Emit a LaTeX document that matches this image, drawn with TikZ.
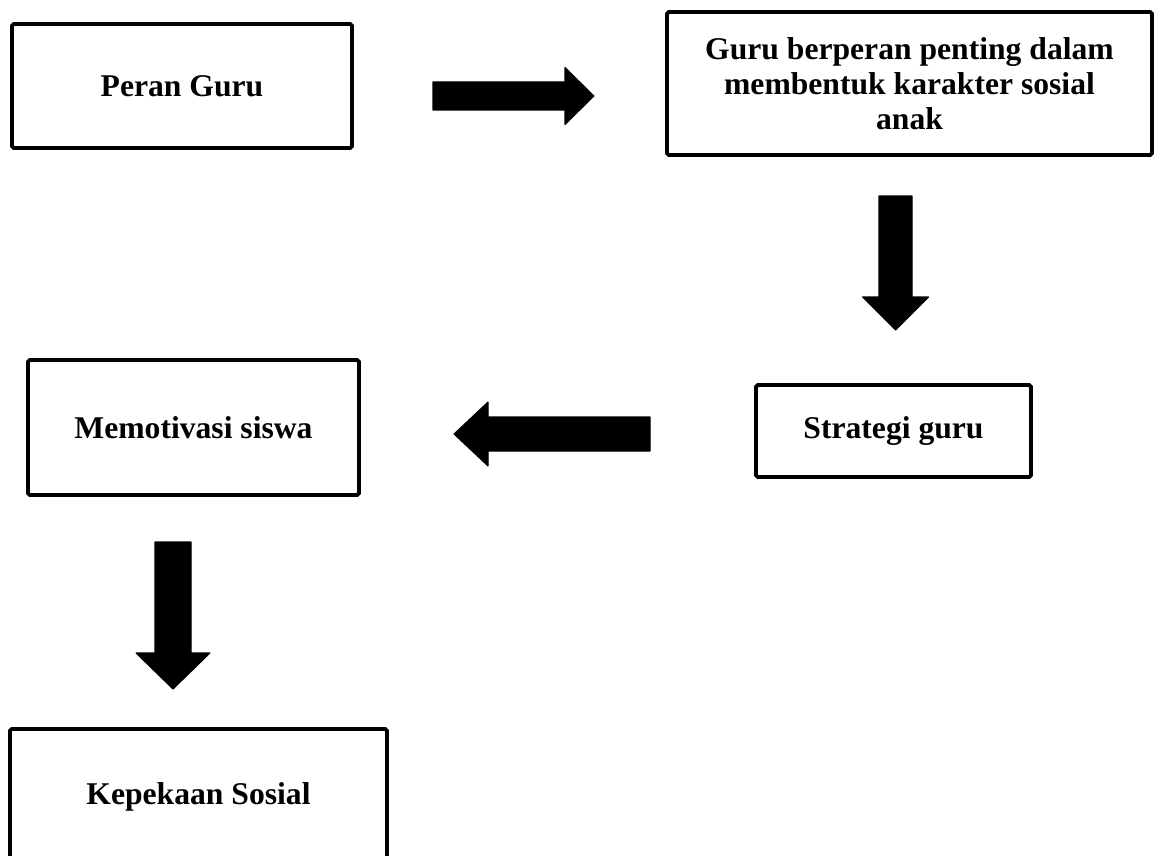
\documentclass[tikz,border=0pt]{standalone}
\usepackage{fontspec}
\setmainfont{Liberation Serif}
\usetikzlibrary{calc, positioning}

% block arrow: tail, tip, shaft half width, head half width, head length
\newcommand{\blockarrow}[5]{
  \coordinate (hb) at ($(#2)!#5!(#1)$);
  \fill[blockarrow]
  ($(#1)!#3!90:(#2)$) -- ($(hb)!#3!90:(#2)$) -- ($(hb)!#4!90:(#2)$)
  -- (#2)
  -- ($(hb)!#4!-90:(#2)$) -- ($(hb)!#3!-90:(#2)$) -- ($(#1)!#3!-90:(#2)$) -- cycle;
}

\begin{document}
\begin{tikzpicture}[
    % Styles
    box/.style={draw=black, line width=2.2pt, rounded corners=1pt, fill=white,
      inner sep=0pt, align=center, font=\fontsize{18}{20}\selectfont\bfseries,
      minimum width=#1},
    blockarrow/.style={fill=black, draw=black, line width=0.6pt, line join=round},
  ]

  % 0) Frame
  \useasboundingbox (0,0) rectangle (23.12,-17.12);
  \clip (0,0) rectangle (23.12,-17.12);

  % 1) Boxes
  \node[box=6.80cm, minimum height=2.48cm] (peran) at (3.64,-1.72) {Peran Guru};
  \node[box=9.70cm, minimum height=2.86cm] (penting) at (18.19,-1.67)
  {Guru berperan penting dalam\\ membentuk karakter sosial\\ anak};
  \node[box=5.50cm, minimum height=1.84cm] (strategi) at (17.87,-8.62) {Strategi guru};
  \node[box=6.62cm, minimum height=2.70cm] (motivasi) at (3.87,-8.55) {Memotivasi siswa};
  \node[box=7.54cm, minimum height=2.70cm] (peka) at (3.97,-15.93) {Kepekaan Sosial};

  % 2) Arrow ends
  \coordinate (a1s) at (8.66,-1.92);   \coordinate (a1e) at (11.88,-1.92);
  \coordinate (a2s) at (17.91,-3.92);  \coordinate (a2e) at (17.91,-6.60);
  \coordinate (a3s) at (13.00,-8.68);  \coordinate (a3e) at (9.08,-8.68);
  \coordinate (a4s) at (3.46,-10.84);  \coordinate (a4e) at (3.46,-13.78);

  % 3) Block arrows
  \blockarrow{a1s}{a1e}{0.28cm}{0.57cm}{0.58cm}
  \blockarrow{a2s}{a2e}{0.33cm}{0.66cm}{0.66cm}
  \blockarrow{a3s}{a3e}{0.34cm}{0.64cm}{0.68cm}
  \blockarrow{a4s}{a4e}{0.36cm}{0.74cm}{0.72cm}
\end{tikzpicture}
\end{document}
